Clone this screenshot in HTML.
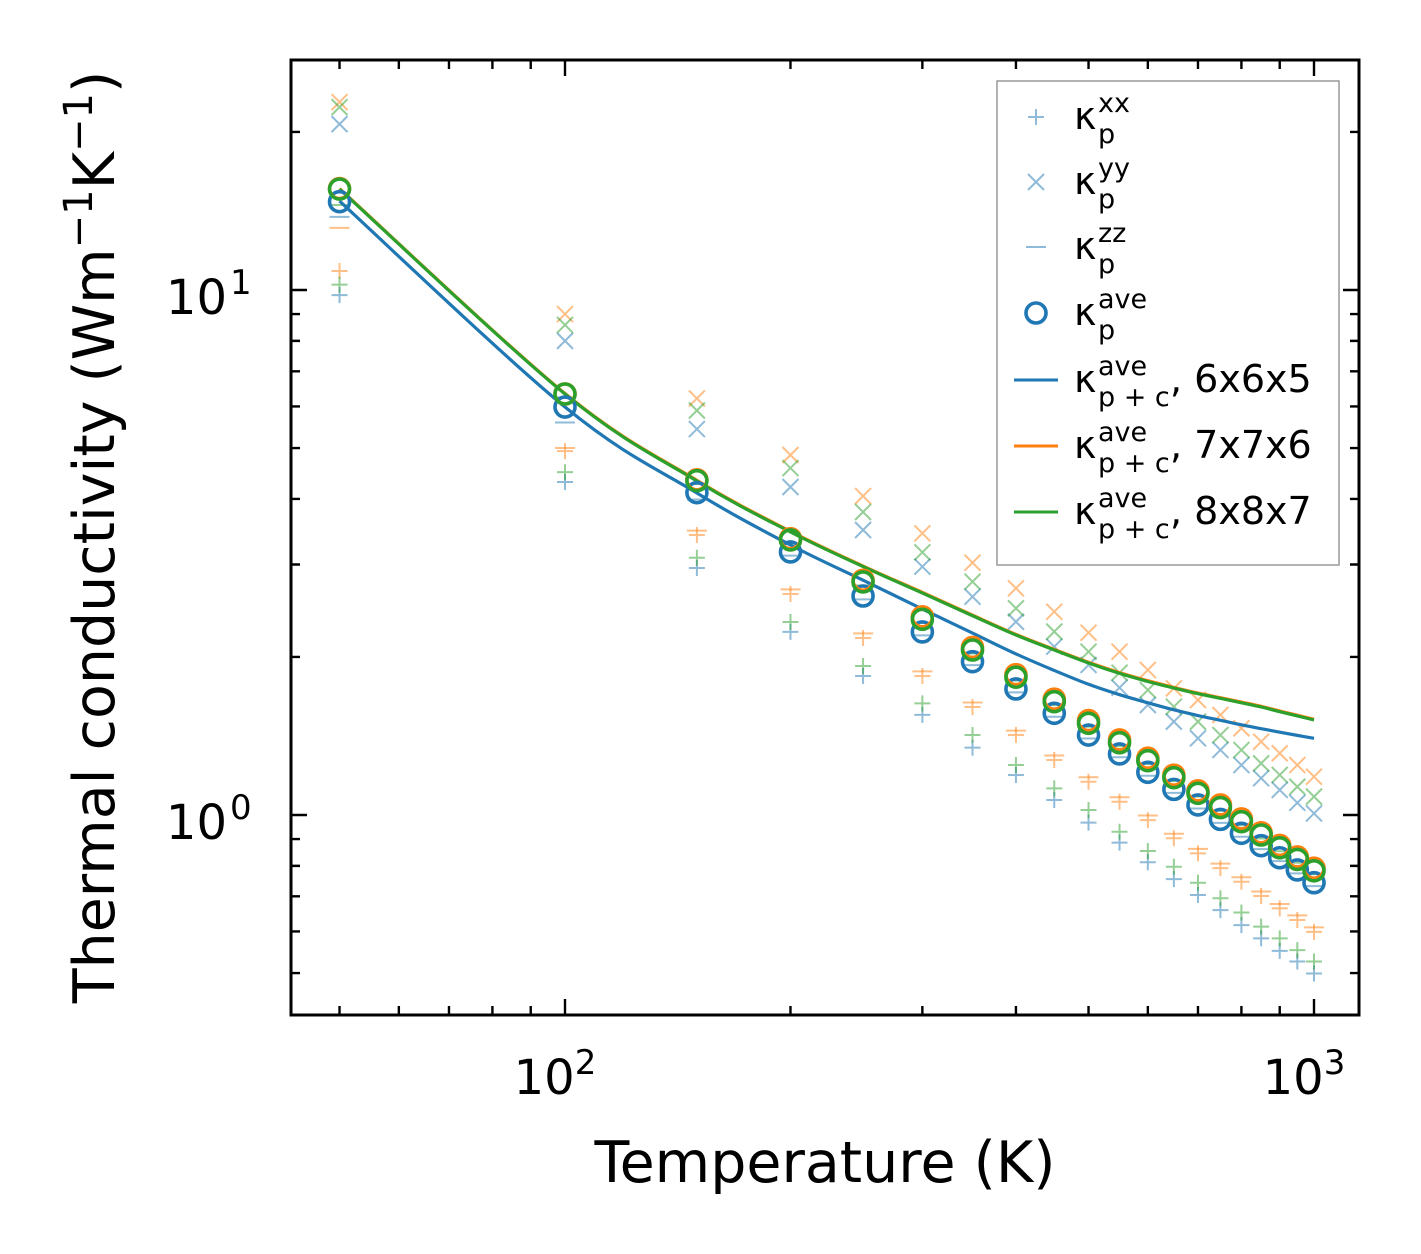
<!DOCTYPE html>
<html><head><meta charset="utf-8"><style>
html,body{margin:0;padding:0;background:#fff;}
svg{display:block;font-family:"DejaVu Sans","Liberation Sans",sans-serif;}
</style></head><body>
<svg id="chart" width="1421" height="1254" viewBox="0 0 1421 1254" xmlns="http://www.w3.org/2000/svg">
<rect width="1421" height="1254" fill="#fff"/>
<g id="marks"></g>
<g id="axes"></g>
<text x="825" y="1182" font-size="57" text-anchor="middle">Temperature (K)</text>
<text transform="translate(114,537) rotate(-90)" font-size="57" text-anchor="middle">Thermal conductivity (Wm<tspan dy="-22" font-size="40">−1</tspan><tspan dy="22">K</tspan><tspan dy="-22" font-size="40">−1</tspan><tspan dy="22">)</tspan></text>
<g id="legend"></g>
</svg>
<script>
const temps=[50,100,150,200,250,300,350,400,450,500,550,600,650,700,750,800,850,900,950,1000];
// kappa_p average (circles)
const aveBlue=[14.73,5.985,4.111,3.170,2.613,2.232,1.959,1.738,1.562,1.420,1.307,1.206,1.119,1.045,0.981,0.923,0.874,0.829,0.786,0.743];
const aveOrange=[15.6,6.34,4.35,3.36,2.80,2.385,2.085,1.850,1.662,1.513,1.390,1.283,1.191,1.112,1.045,0.983,0.925,0.875,0.832,0.792];
const aveGreen=[15.57,6.337,4.333,3.341,2.779,2.359,2.062,1.830,1.644,1.495,1.373,1.269,1.178,1.100,1.033,0.971,0.916,0.866,0.823,0.783];
// kappa_p+c average (lines)
const lineBlue=[14.77,5.985,4.105,3.268,2.80,2.468,2.221,2.027,1.885,1.774,1.695,1.636,1.586,1.547,1.515,1.485,1.460,1.438,1.418,1.400];
const lineOrange=[15.6,6.35,4.34,3.47,2.98,2.655,2.403,2.208,2.068,1.954,1.867,1.802,1.750,1.707,1.673,1.641,1.611,1.578,1.549,1.522];
const lineGreen=[15.57,6.337,4.327,3.460,2.973,2.647,2.396,2.202,2.062,1.948,1.861,1.796,1.745,1.702,1.668,1.636,1.606,1.573,1.544,1.517];
// yy components (x markers)
const yyOrange=[22.8,9.00,6.215,4.85,4.05,3.44,3.024,2.703,2.439,2.225,2.047,1.889,1.743,1.656,1.551,1.463,1.379,1.311,1.245,1.183];
const yyGreen=[22.3,8.58,5.895,4.58,3.777,3.165,2.782,2.476,2.235,2.047,1.867,1.730,1.608,1.506,1.420,1.330,1.254,1.192,1.132,1.084];
const yyBlue=[20.7,8.0,5.435,4.215,3.49,2.971,2.605,2.334,2.092,1.931,1.748,1.620,1.506,1.400,1.330,1.245,1.175,1.116,1.055,1.007];
// xx components (+ markers)
const xxOrange=[10.87,4.934,3.415,2.636,2.174,1.840,1.606,1.420,1.273,1.157,1.060,0.978,0.903,0.845,0.792,0.746,0.701,0.664,0.631,0.599];
const xxGreen=[10.24,4.50,3.091,2.332,1.922,1.632,1.420,1.245,1.124,1.022,0.929,0.854,0.797,0.743,0.694,0.652,0.613,0.582,0.553,0.526];
const xxBlue=[9.78,4.308,2.954,2.232,1.840,1.551,1.344,1.192,1.068,0.967,0.886,0.813,0.755,0.704,0.659,0.617,0.582,0.551,0.526,0.499];
// zz components (- markers)
const zzBlue=[13.78,5.593,3.99,3.12,2.575,2.198,1.93,1.712,1.539,1.399,1.288,1.188,1.102,1.029,0.966,0.909,0.861,0.817,0.774,0.732];
const zzOrange=[13.13,5.0,3.48,2.69,2.218,1.877,1.638,1.448,1.298,1.180,1.081,0.998,0.921,0.862,0.808,0.761,0.715,0.677,0.644,0.611];
const zzGreen=[14.52,6.24,4.27,3.29,2.737,2.324,2.031,1.803,1.619,1.473,1.352,1.250,1.160,1.084,1.018,0.956,0.902,0.853,0.811,0.771];
const xTickLabels=["2","3"];
const yTickLabels=["0","1"];

const NS="http://www.w3.org/2000/svg";
const L=291,R=1359,T=60,B=1015;
const X=t=>565+749*(Math.log10(t)-2);
const Y=v=>815-525*Math.log10(v);
const C={b:"#1f77b4",o:"#ff7f0e",g:"#2ca02c"};
function mk(tag,attrs,parent){const e=document.createElementNS(NS,tag);for(const k in attrs)e.setAttribute(k,attrs[k]);parent.appendChild(e);return e;}
const marks=document.getElementById('marks');
const axes=document.getElementById('axes');
const leg=document.getElementById('legend');

function plus(g,x,y,col,s){mk('path',{d:`M${x-s} ${y}H${x+s}M${x} ${y-s}V${y+s}`,stroke:col,'stroke-width':2,fill:'none',opacity:0.5},g);}
function cross(g,x,y,col,s){mk('path',{d:`M${x-s} ${y-s}L${x+s} ${y+s}M${x-s} ${y+s}L${x+s} ${y-s}`,stroke:col,'stroke-width':2,fill:'none',opacity:0.5},g);}
function dash(g,x,y,col,s){mk('path',{d:`M${x-s} ${y}H${x+s}`,stroke:col,'stroke-width':2,fill:'none',opacity:0.5},g);}
function circ(g,x,y,col){mk('circle',{cx:x,cy:y,r:10,stroke:col,'stroke-width':3.6,fill:'none'},g);}

const series=[
 [xxBlue,'b',plus,'xx'],[yyBlue,'b',cross,'yy'],[zzBlue,'b',dash,'zz'],
 [xxOrange,'o',plus,'xx'],[yyOrange,'o',cross,'yy'],[zzOrange,'o',dash,'zz'],
 [xxGreen,'g',plus,'xx'],[yyGreen,'g',cross,'yy'],[zzGreen,'g',dash,'zz']];
series.forEach(s=>{
 const g=mk('g',{},marks);
 
 
 temps.forEach((t,i)=>s[2](g,X(t),Y(s[0][i]),C[s[1]],s[2]===dash?10:8));
});
function smoothPath(pts){
 let d=`M${pts[0][0]} ${pts[0][1]}`;
 for(let i=0;i<pts.length-1;i++){
  const p0=pts[Math.max(0,i-1)],p1=pts[i],p2=pts[i+1],p3=pts[Math.min(pts.length-1,i+2)];
  const c1=[p1[0]+(p2[0]-p0[0])/6,p1[1]+(p2[1]-p0[1])/6];
  const c2=[p2[0]-(p3[0]-p1[0])/6,p2[1]-(p3[1]-p1[1])/6];
  d+=` C${c1[0]} ${c1[1]} ${c2[0]} ${c2[1]} ${p2[0]} ${p2[1]}`;
 }
 return d;
}
[[lineBlue,'b'],[lineOrange,'o'],[lineGreen,'g']].forEach(s=>{
 const p=mk('path',{d:smoothPath(temps.map((t,i)=>[X(t),Y(s[0][i])])),fill:'none',stroke:C[s[1]],'stroke-width':3.2},marks);
 
 
});
[[aveBlue,'b'],[aveOrange,'o'],[aveGreen,'g']].forEach(s=>{
 const g=mk('g',{},marks);
 
 
 temps.forEach((t,i)=>circ(g,X(t),Y(s[0][i]),C[s[1]]));
});

// frame
mk('rect',{x:L,y:T,width:R-L,height:B-T,fill:'none',stroke:'#000','stroke-width':3},axes);
const xt=[];
for(let d=1;d<=3;d++)for(let m=1;m<10;m++){const v=m*Math.pow(10,d);const x=X(v);if(x>L+1&&x<R-1)xt.push([x,m===1]);}
xt.forEach(([x,maj])=>{const l=maj?16:9;
 mk('path',{d:`M${x} ${B}V${B-l}M${x} ${T}V${T+l}`,stroke:'#000','stroke-width':2.4},axes);});
const yt=[];
for(let d=-1;d<=1;d++)for(let m=1;m<10;m++){const v=m*Math.pow(10,d);const y=Y(v);if(y>T+1&&y<B-1)yt.push([y,m===1]);}
yt.forEach(([y,maj])=>{const l=maj?16:9;
 mk('path',{d:`M${L} ${y}H${L+l}M${R} ${y}H${R-l}`,stroke:'#000','stroke-width':2.4},axes);});
// tick labels
[100,1000].forEach((v,i)=>{const t=mk('text',{x:X(v)-10,y:1094,'font-size':48,'text-anchor':'middle'},axes);
 
 
 t.textContent='10';const s=mk('tspan',{dy:-20,'font-size':34},t);s.textContent=xTickLabels[i];});
[1,10].forEach((v,i)=>{const t=mk('text',{x:227,y:Y(v)+24,'font-size':48,'text-anchor':'end'},axes);
 
 
 t.textContent='10';
 const s=mk('text',{x:230,y:Y(v)+4,'font-size':34},axes);s.textContent=yTickLabels[i];});

// legend
mk('rect',{x:997,y:81,width:342,height:484,fill:'#fff',stroke:'#999','stroke-width':1.5},leg);
const entries=[
 ['plus','b','xx','p',''],['cross','b','yy','p',''],['dash','b','zz','p',''],
 ['circ','b','ave','p',''],['line','b','ave','p + c',', 6x6x5'],['line','o','ave','p + c',', 7x7x6'],['line','g','ave','p + c',', 8x8x7']];
const rows=[117,182,247,313,380,446,512];
entries.forEach((e,i)=>{
 const y=rows[i];const g=mk('g',{},leg);
 
 
 const col=C[e[1]];
 if(e[0]==='plus')plus(g,1036,y,col,8);
 else if(e[0]==='cross')cross(g,1036,y,col,8);
 else if(e[0]==='dash')dash(g,1036,y,col,10);
 else if(e[0]==='circ')circ(g,1036,y,col);
 else mk('path',{d:`M1014 ${y}H1058`,stroke:col,'stroke-width':3},g);
 const t=mk('text',{x:1074,y:y+12,'font-size':38},g);t.textContent='κ';
 const sp=mk('text',{x:1098,y:y-5,'font-size':27},g);sp.textContent=e[2];
 const sb=mk('text',{x:1098,y:y+26,'font-size':27},g);sb.textContent=e[3];
 if(e[4]){const r=mk('text',{x:1170,y:y+12,'font-size':38},g);r.textContent=e[4];}
});
</script>
</body></html>
